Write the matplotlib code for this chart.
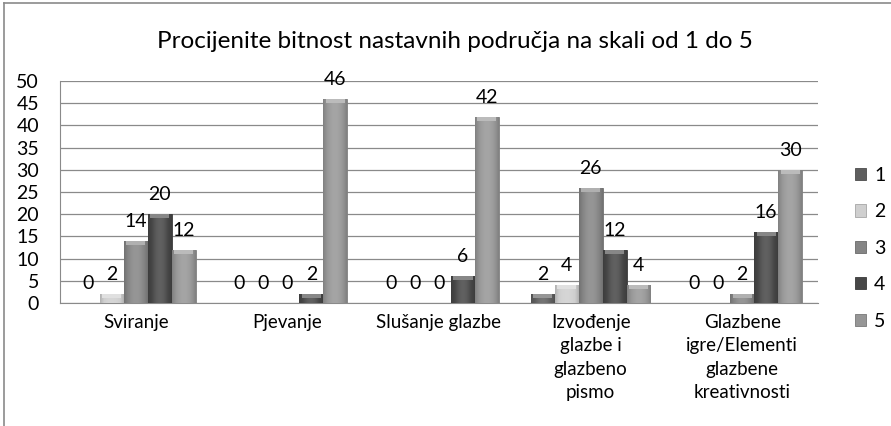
import numpy as np
import matplotlib
matplotlib.use("Agg")
import matplotlib.pyplot as plt
from matplotlib.patches import Rectangle
from matplotlib.lines import Line2D

categories = ["Sviranje", "Pjevanje", "Slušanje glazbe",
              "Izvođenje\nglazbe i\nglazbeno\npismo",
              "Glazbene\nigre/Elementi\nglazbene\nkreativnosti"]
series_names = ["1", "2", "3", "4", "5"]
s1 = [0, 0, 0, 2, 0]
s2 = [2, 0, 0, 4, 0]
s3 = [14, 0, 0, 26, 2]
s4 = [20, 2, 6, 12, 16]
s5 = [12, 46, 42, 4, 30]
series = [s1, s2, s3, s4, s5]
colors = ["#5e5e5e", "#cfcfcf", "#858585", "#474747", "#969696"]
title = "Procijenite bitnost nastavnih područja na skali od 1 do 5"

plt.rcParams['font.family'] = ['Lato', 'DejaVu Sans']

fig = plt.figure(figsize=(8.91, 4.26), dpi=100)
ax = fig.add_axes([60/891, (426-303)/426, (818-60)/891, (303-81)/426])

x = np.arange(len(categories))
w = 0.158
def shade(c, f):
    c = np.array(matplotlib.colors.to_rgb(c))
    if f >= 0:
        return tuple(c + (1 - c) * f)
    return tuple(c * (1 + f))

for i, (vals, col) in enumerate(zip(series, colors)):
    xs = x + (i - 2) * w
    bars = ax.bar(xs, vals, width=w, color=col, edgecolor=shade(col, -0.15),
                  linewidth=0.6, zorder=3)
    for b, v in zip(bars, vals):
        if v > 0:
            x0 = b.get_x()
            grad = np.linspace(0, 1, 50)
            prof = 0.28 * np.sin(np.pi * grad) - 0.14
            rgb = np.array([shade(col, p) for p in prof])[None, :, :]
            im = ax.imshow(rgb, extent=[x0, x0 + w, 0, v], aspect='auto',
                           zorder=3.5, interpolation='bilinear')
            im.set_clip_path(b)
            cap = min(1.0, v)
            ax.add_patch(Rectangle((x0 + w*0.1, v - cap*0.9), w*0.8, cap*0.9,
                                   color=shade(col, 0.35), zorder=3.6, lw=0))
        ax.annotate(f"{v}", (b.get_x() + w/2, v), xytext=(0, 14),
                    textcoords='offset points', ha='center', va='center',
                    fontsize=14, color='black', zorder=5)

ax.set_ylim(0, 50)
ax.set_xlim(-0.5, len(categories) - 0.5)
ax.set_yticks(np.arange(0, 51, 5))
ax.yaxis.grid(True, color='#8a8a8a', linewidth=0.9, zorder=0)
ax.set_axisbelow(True)
ax.tick_params(axis='y', length=0, pad=15, labelsize=14)
ax.tick_params(axis='x', length=0, pad=8, labelsize=13.5)
ax.set_xticks(x)
ax.set_xticklabels(categories, va='top', linespacing=1.45)
for s in ['top', 'right']:
    ax.spines[s].set_visible(False)
ax.spines['left'].set_color('#8a8a8a')
ax.spines['bottom'].set_color('#8a8a8a')

fig.text(455/891, 1 - 42/426, title, ha='center', va='center', fontsize=17.5)

handles = [Rectangle((0, 0), 1, 1, facecolor=c, edgecolor=shade(c, -0.2), lw=0.6)
           for c in colors]
fig.legend(handles, series_names, loc='upper left',
           bbox_to_anchor=(847/891, 1 - 159/426), frameon=False,
           fontsize=14, labelspacing=1.0, handlelength=0.6,
           handleheight=0.6, handletextpad=0.4, borderaxespad=0)

fig.add_artist(Line2D([4/891, 1], [1 - 3/426, 1 - 3/426], color='#8a8a8a', lw=1.2,
                      transform=fig.transFigure))
fig.add_artist(Line2D([4/891, 4/891], [0, 1 - 3/426], color='#8a8a8a', lw=1.2,
                      transform=fig.transFigure))

fig.savefig("out.png", dpi=100)
